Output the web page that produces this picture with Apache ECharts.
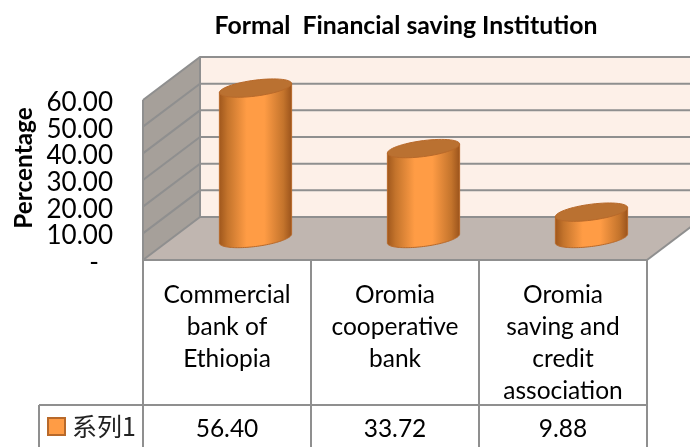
<!DOCTYPE html>
<html>
<head>
<meta charset="utf-8">
<script src="https://cdn.jsdelivr.net/npm/echarts@6/dist/echarts.min.js"></script>
<style>html,body{margin:0;padding:0;background:#fff}#c{width:690px;height:447px}</style>
</head>
<body>
<div id="c"></div>
<script>
var chartTitle = 'Formal  Financial saving Institution';
var axisTitle = 'Percentage';
var seriesName = '系列1';
var categories = ['Commercial\nbank of\nEthiopia', 'Oromia\ncooperative\nbank', 'Oromia\nsaving and\ncredit\nassociation'];
var values = [56.40, 33.72, 9.88];
var yTicks = [0, 10, 20, 30, 40, 50, 60];

var FONT = 'Lato';
var LABEL_SIZE = 24.5;
var Y_SIZE = 26;
var DEPTH_X = 57, DEPTH_Y = -43;
var LINE = '#8F8F8F';
var chart = echarts.init(document.getElementById('c'));

function P(pt, dx, dy) { return [pt[0] + dx, pt[1] + dy]; }

function renderFrame(params, api) {
  var cs = params.coordSys;
  var left = cs.x, right = cs.x + cs.width, bottom = cs.y + cs.height;
  var kids = [];
  var lineStyle = { stroke: LINE, lineWidth: 2, fill: null };
  var backBottom = bottom + DEPTH_Y;
  kids.push({ type: 'polygon', shape: { points: [
    [left + DEPTH_X, cs.y + DEPTH_Y], [right + DEPTH_X, cs.y + DEPTH_Y], [right + DEPTH_X, backBottom], [left + DEPTH_X, backBottom]
  ] }, style: { fill: '#FDF0E8' } });
  kids.push({ type: 'polygon', shape: { points: [
    [left, cs.y], [left + DEPTH_X, cs.y + DEPTH_Y], [left + DEPTH_X, backBottom], [left, bottom]
  ] }, style: { fill: '#A6A09A' } });
  kids.push({ type: 'polygon', shape: { points: [
    [left, bottom], [right, bottom], [right + DEPTH_X, backBottom], [left + DEPTH_X, backBottom]
  ] }, style: { fill: '#C0B6B0' } });
  yTicks.forEach(function (t) {
    var y = api.coord([0, t])[1];
    kids.push({ type: 'polyline', shape: { points: [
      [left, y], [left + DEPTH_X, y + DEPTH_Y], [right + DEPTH_X, y + DEPTH_Y]
    ] }, style: lineStyle });
  });
  kids.push({ type: 'line', shape: { x1: left, y1: cs.y, x2: left, y2: bottom }, style: lineStyle });
  kids.push({ type: 'line', shape: { x1: left + DEPTH_X, y1: cs.y + DEPTH_Y, x2: left + DEPTH_X, y2: backBottom }, style: lineStyle });
  kids.push({ type: 'line', shape: { x1: right, y1: bottom, x2: right + DEPTH_X, y2: backBottom }, style: lineStyle });
  var colW = cs.width / categories.length;
  var rowY = bottom + 145, legendLeft = left - 104, tableEnd = bottom + 200;
  for (var i = 0; i <= categories.length; i++) {
    var x = left + i * colW;
    kids.push({ type: 'line', shape: { x1: x, y1: bottom, x2: x, y2: tableEnd }, style: lineStyle });
  }
  kids.push({ type: 'line', shape: { x1: left, y1: bottom, x2: right, y2: bottom }, style: lineStyle });
  kids.push({ type: 'line', shape: { x1: legendLeft, y1: rowY, x2: right, y2: rowY }, style: lineStyle });
  kids.push({ type: 'line', shape: { x1: legendLeft, y1: rowY, x2: legendLeft, y2: tableEnd }, style: lineStyle });
  return { type: 'group', children: kids };
}

function ellipsePts(cx, cy, rx, ry, tilt, from, to) {
  var pts = [];
  var n = 60;
  for (var k = 0; k <= n; k++) {
    var a = from + (to - from) * k / n;
    var c = Math.cos(a);
    pts.push([cx + rx * c, cy - tilt * c + ry * Math.sin(a)]);
  }
  return pts;
}

function renderCylinder(params, api) {
  var cs = params.coordSys;
  var idx = api.value(0), v = api.value(1);
  var base = P(api.coord([idx, 0]), DEPTH_X / 2, DEPTH_Y / 2);
  var top = P(api.coord([idx, v]), DEPTH_X / 2, DEPTH_Y / 2);
  var colW = cs.width / categories.length;
  var rx = colW * 0.215, ry = 8, tilt = 4.5;
  var lower = ellipsePts(base[0], base[1], rx, ry, tilt, Math.PI, 0);
  var body = [[top[0] - rx, top[1] + tilt]].concat(lower).concat([[top[0] + rx, top[1] - tilt]]);
  var grad = new echarts.graphic.LinearGradient(0, 0, 1, 0, [
    { offset: 0, color: '#9E561C' },
    { offset: 0.12, color: '#C4742C' },
    { offset: 0.38, color: '#FF9C45' },
    { offset: 0.62, color: '#FF9C45' },
    { offset: 0.88, color: '#C4742C' },
    { offset: 1, color: '#99521B' }
  ]);
  return { type: 'group', children: [
    { type: 'polygon', shape: { points: body }, style: { fill: grad, stroke: '#B8692A', lineWidth: 1 } },
    { type: 'polygon', shape: { points: ellipsePts(top[0], top[1], rx, ry, tilt, 0, Math.PI * 2) }, style: { fill: '#BA7131', stroke: '#B8692A', lineWidth: 1 } },
    { type: 'text', style: {
        text: v.toFixed(2), x: api.coord([idx, 0])[0], y: cs.y + cs.height + 169,
        align: 'center', verticalAlign: 'middle', fontFamily: FONT, fontSize: LABEL_SIZE, fill: '#000'
    } }
  ] };
}

chart.setOption({
  animation: false,
  backgroundColor: '#fff',
  title: {
    text: chartTitle, left: 401, top: 9, textAlign: 'center',
    textStyle: { fontFamily: FONT, fontSize: 24.8, fontWeight: 'bold', color: '#000' }
  },
  grid: { left: 143, top: 100, width: 504, height: 160, outerBoundsMode: 'none' },
  legend: {
    data: [{ name: seriesName, icon: 'rect' }],
    left: 42, top: 409, itemWidth: 17, itemHeight: 17, itemGap: 7,
    textStyle: { fontFamily: '"Noto Sans CJK SC"', fontSize: 25, color: '#222', padding: [0, 0, 0, 2] }
  },
  xAxis: {
    type: 'category', data: categories,
    axisLine: { show: false }, axisTick: { show: false },
    axisLabel: { interval: 0, margin: 19, lineHeight: 32, fontFamily: FONT, fontSize: LABEL_SIZE, color: '#000' }
  },
  yAxis: {
    type: 'value', min: 0, max: 60, interval: 10,
    name: axisTitle, nameLocation: 'middle', nameGap: 107, nameRotate: 90,
    nameTextStyle: { fontFamily: FONT, fontSize: 24.4, fontWeight: 'bold', color: '#000', padding: [0, 0, 0, 24] },
    axisLine: { show: false }, axisTick: { show: false }, splitLine: { show: false },
    axisLabel: {
      margin: 30, fontFamily: FONT, fontSize: Y_SIZE, color: '#000', padding: [5, 0, 0, 0],
      formatter: function (v) { return v === 0 ? '{dash|-}' : v.toFixed(2); },
      rich: { dash: { fontFamily: FONT, fontSize: Y_SIZE, color: '#000', padding: [0, 14, 0, 0] } }
    }
  },
  series: [
    { name: 'frame', type: 'custom', silent: true, z: 1, clip: false, data: [[0, 0]], renderItem: renderFrame },
    {
      name: seriesName, type: 'custom', z: 2, clip: false,
      itemStyle: { color: '#FF9C45', borderColor: '#B8692A', borderWidth: 2 },
      data: values.map(function (v, i) { return [i, v]; }),
      encode: { x: 0, y: 1 },
      renderItem: renderCylinder
    }
  ]
});
</script>
</body>
</html>
